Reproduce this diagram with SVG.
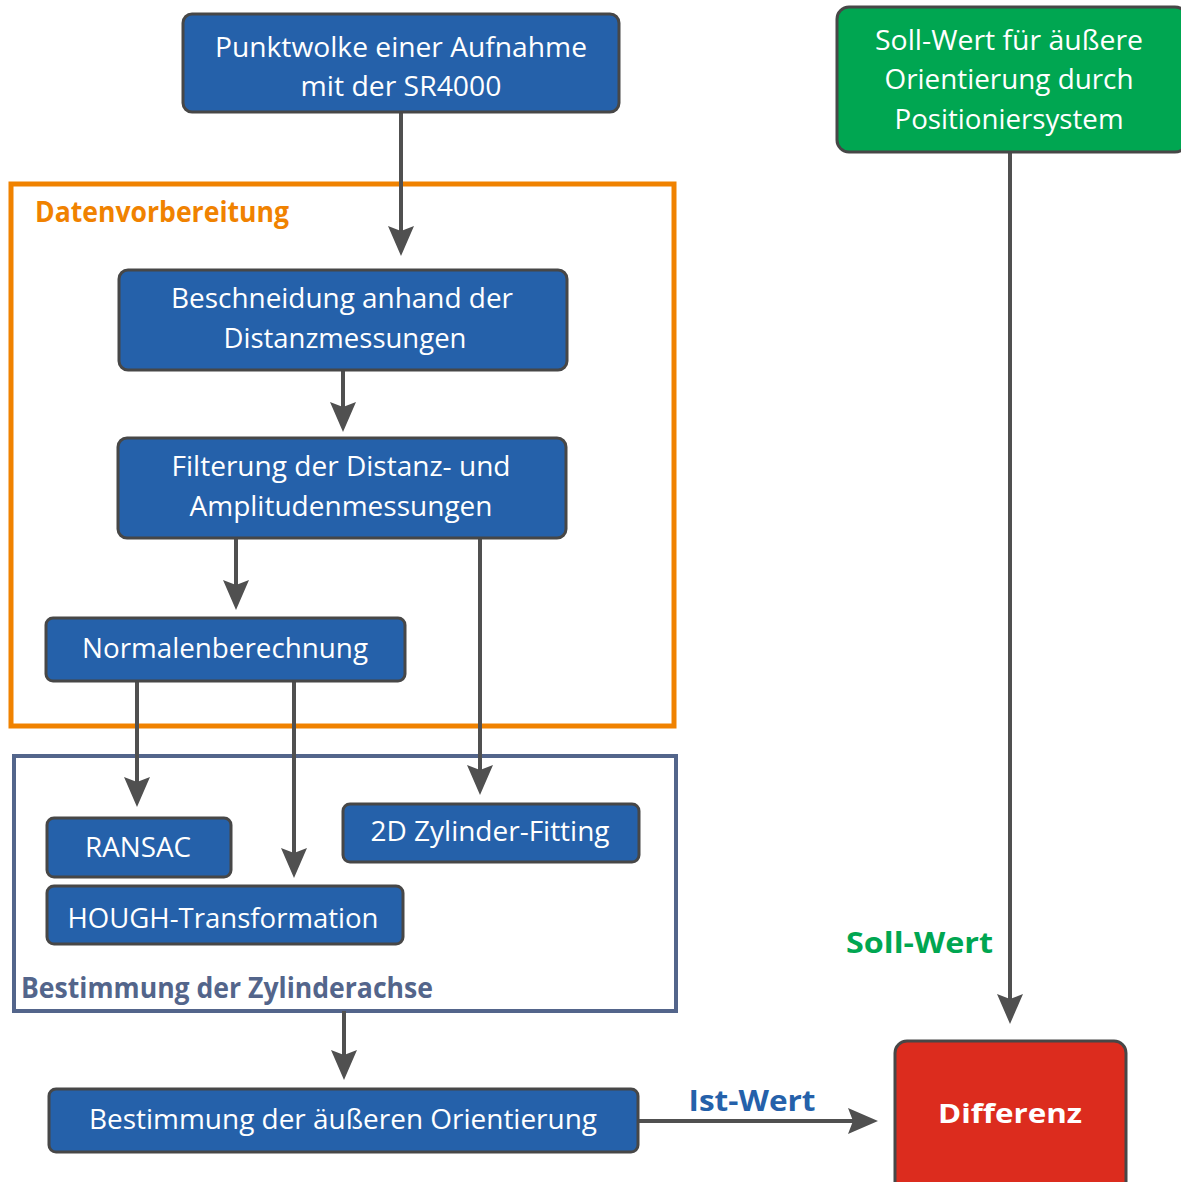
<svg xmlns="http://www.w3.org/2000/svg" width="1181" height="1182" viewBox="0 0 1181 1182">
<style>
.node{stroke:#474747;stroke-width:3}
.blue{fill:#2561AA}
.t{font-family:"Open Sans","Noto Sans","DejaVu Sans",sans-serif;font-size:27px;fill:#fff;text-anchor:middle}
.lbl{font-family:"Open Sans","Noto Sans","DejaVu Sans",sans-serif;font-size:28px;font-weight:bold}
.con{stroke:#505050;stroke-width:4;fill:none;marker-end:url(#ah)}
</style>
<defs>
<marker id="ah" markerUnits="userSpaceOnUse" markerWidth="34" markerHeight="30" viewBox="-6 -15 34 30" refX="0" refY="0" orient="auto">
<path d="M-5,-13 L25,0 L-5,13 L0,0 z" fill="#505050"/>
</marker>
</defs>
<rect width="1181" height="1182" fill="#fff"/>
<g id="group-datenvorbereitung">
<rect x="11" y="184" width="663" height="542" fill="none" stroke="#F08200" stroke-width="5"/>
<text class="lbl" x="35" y="222" fill="#F08200" textLength="254" lengthAdjust="spacingAndGlyphs">Datenvorbereitung</text>
</g>
<g id="group-zylinderachse">
<rect x="14" y="756" width="662" height="255" fill="none" stroke="#53658B" stroke-width="4"/>
<text class="lbl" x="21" y="998" fill="#53658B" textLength="412" lengthAdjust="spacingAndGlyphs">Bestimmung der Zylinderachse</text>
</g>
<g id="connectors">
<line class="con" x1="401" y1="112" x2="401" y2="231"/>
<line class="con" x1="343" y1="370" x2="343" y2="407"/>
<line class="con" x1="236" y1="538" x2="236" y2="585"/>
<line class="con" x1="480" y1="538" x2="480" y2="770"/>
<line class="con" x1="137" y1="681" x2="137" y2="782"/>
<line class="con" x1="294" y1="681" x2="294" y2="853"/>
<line class="con" x1="344" y1="1011" x2="344" y2="1055"/>
<line class="con" x1="638" y1="1121" x2="853" y2="1121"/>
<line class="con" x1="1010" y1="152" x2="1010" y2="999"/>
<text class="lbl" x="752" y="1111" fill="#2561AA" text-anchor="middle" textLength="127" lengthAdjust="spacingAndGlyphs">Ist-Wert</text>
<text class="lbl" x="846" y="953" fill="#00A651" textLength="147" lengthAdjust="spacingAndGlyphs">Soll-Wert</text>
</g>
<g id="node-punktwolke">
<rect class="node blue" x="183" y="14" width="436" height="98" rx="9"/>
<text class="t" x="401" y="57" textLength="372" lengthAdjust="spacingAndGlyphs">Punktwolke einer Aufnahme</text>
<text class="t" x="401" y="96" textLength="201" lengthAdjust="spacingAndGlyphs">mit der SR4000</text>
</g>
<g id="node-sollwert">
<rect class="node" x="837" y="7" width="350" height="145" rx="12" fill="#00A651"/>
<text class="t" x="1009" y="50" textLength="268" lengthAdjust="spacingAndGlyphs">Soll-Wert für äußere</text>
<text class="t" x="1009" y="89" textLength="249" lengthAdjust="spacingAndGlyphs">Orientierung durch</text>
<text class="t" x="1009" y="129" textLength="229" lengthAdjust="spacingAndGlyphs">Positioniersystem</text>
</g>
<g id="node-beschneidung">
<rect class="node blue" x="119" y="270" width="448" height="100" rx="9"/>
<text class="t" x="342" y="308" textLength="342" lengthAdjust="spacingAndGlyphs">Beschneidung anhand der</text>
<text class="t" x="345" y="348" textLength="243" lengthAdjust="spacingAndGlyphs">Distanzmessungen</text>
</g>
<g id="node-filterung">
<rect class="node blue" x="118" y="438" width="448" height="100" rx="9"/>
<text class="t" x="341" y="476" textLength="339" lengthAdjust="spacingAndGlyphs">Filterung der Distanz- und</text>
<text class="t" x="341" y="516" textLength="303" lengthAdjust="spacingAndGlyphs">Amplitudenmessungen</text>
</g>
<g id="node-normalen">
<rect class="node blue" x="46" y="618" width="359" height="63" rx="7"/>
<text class="t" x="225" y="658" textLength="286" lengthAdjust="spacingAndGlyphs">Normalenberechnung</text>
</g>
<g id="node-ransac">
<rect class="node blue" x="47" y="818" width="184" height="59" rx="7"/>
<text class="t" x="138" y="857" textLength="106" lengthAdjust="spacingAndGlyphs">RANSAC</text>
</g>
<g id="node-hough">
<rect class="node blue" x="47" y="886" width="356" height="58" rx="7"/>
<text class="t" x="223" y="928" textLength="311" lengthAdjust="spacingAndGlyphs">HOUGH-Transformation</text>
</g>
<g id="node-zylinderfitting">
<rect class="node blue" x="343" y="804" width="296" height="58" rx="7"/>
<text class="t" x="490" y="841" textLength="239" lengthAdjust="spacingAndGlyphs">2D Zylinder-Fitting</text>
</g>
<g id="node-orientierung">
<rect class="node blue" x="49" y="1089" width="589" height="63" rx="7"/>
<text class="t" x="343" y="1129" textLength="508" lengthAdjust="spacingAndGlyphs">Bestimmung der äußeren Orientierung</text>
</g>
<g id="node-differenz">
<rect class="node" x="895" y="1041" width="231" height="160" rx="12" fill="#DC2C1E"/>
<text class="t" x="1010" y="1123" font-weight="bold" font-size="33" textLength="144" lengthAdjust="spacingAndGlyphs">Differenz</text>
</g>
</svg>
